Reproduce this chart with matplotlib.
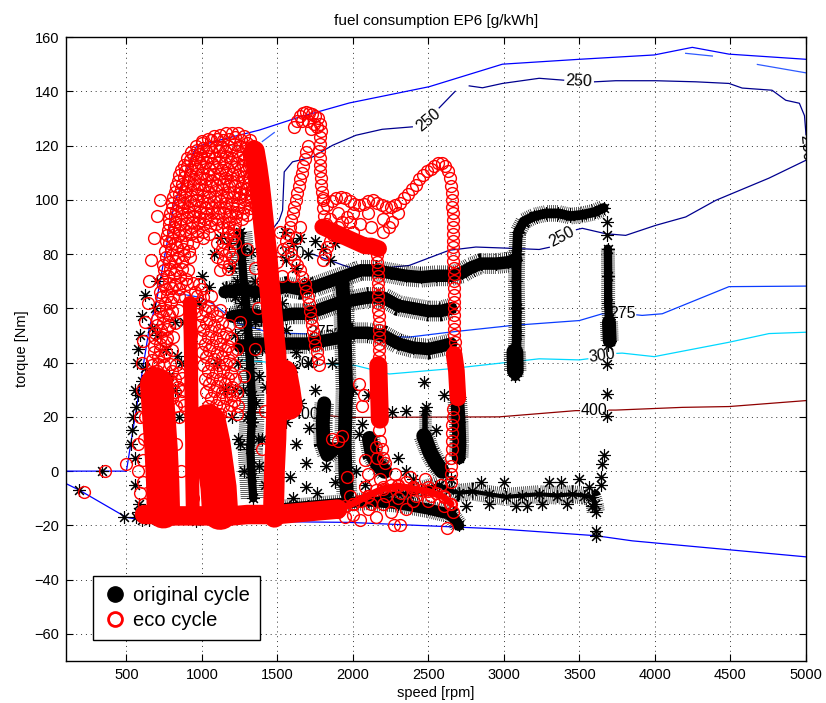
import matplotlib
matplotlib.use("Agg")
import matplotlib.pyplot as plt
from matplotlib.lines import Line2D

plt.rcParams['font.family'] = ['Liberation Sans', 'DejaVu Sans']

# ---------------------------------------------------------------- axes / ticks
x_ticks = [500, 1000, 1500, 2000, 2500, 3000, 3500, 4000, 4500, 5000]
y_ticks = [-60, -40, -20, 0, 20, 40, 60, 80, 100, 120, 140, 160]

# ---------------------------------------------------------------- engine map
full_load_rpm = [100, 500, 652, 696, 817, 961, 1115, 1380, 1645, 1976, 2505, 2990, 3499, 3995, 4247, 4490, 5000]
full_load_nm = [0, 0, 53, 61.7, 98.7, 119.5, 122, 125.7, 130.5, 135.7, 141.7, 150, 151.8, 153.4, 156.2, 153.7, 151.8]

motoring_rpm = [100, 188, 498, 586, 961, 1976, 2968, 3608, 3850, 5000]
motoring_nm = [-4.6, -7, -17, -17.9, -18.3, -18.9, -21.3, -23.8, -25.7, -31.6]

# bsfc iso-lines [g/kWh]
c245_a = [(1400, 121.5), (1479, 124.8)]
c245_b = [(4203, 154), (4380, 153)]
c245_c = [(4678, 149.9), (5000, 146.8)]

c250_inner = [(1495, 80.5), (1440, 81.5), (1425, 84), (1446, 87.5), (1512, 92.5), (1534, 96.1), (1545, 110.3),
              (1600, 114), (1733, 115.8), (1865, 120.1), (2020, 123.8), (2194, 126), (2393, 126.9)]
c250_inner_end = [(2571, 133.9), (2677, 140)]
c250_low_a = [(1690, 80), (1732, 80), (1930, 76), (2040, 74), (2372, 75.8), (2637, 81.4), (2814, 82.6),
              (3013, 82.2), (3233, 81.7), (3300, 82.5)]
c250_low_b = [(3480, 89), (3519, 89.5), (3674, 87.5), (3806, 86.9), (4005, 90.6), (4204, 93.7), (4402, 99.8),
              (4755, 108), (5000, 114.6)]
c250_top_a = [(5000, 124), (4990, 131), (4956, 135.6), (4866, 136.7), (4775, 140.4), (4577, 141.2), (4490, 142.9),
              (4270, 143.5), (4005, 143.9), (3740, 143.9), (3600, 143.5)]
c250_top_b = [(3395, 144.1), (3233, 144.8), (2990, 142.9), (2858, 141.3), (2770, 142)]

c275_a = [(850, 65.4), (983, 64.1), (1071, 61.7), (1247, 54.4), (1450, 51), (1690, 50.6)]
c275_b = [(1895, 50.5), (2050, 49.8), (2372, 49.4), (2637, 51.2), (3056, 53.7), (3499, 55.5), (3651, 58), (3690, 58)]
c275_c = [(3880, 57.6), (3915, 57.4), (4048, 58), (4490, 68), (5000, 68.2)]

c300_a = [(1280, 40.8), (1450, 40.1), (1585, 39.8)]
c300_b = [(1797, 39.6), (2020, 38.9), (2240, 35.8), (2637, 37.7), (3233, 41.4), (3499, 41), (3555, 41.4)]
c300_c = [(3748, 43.4), (3783, 43.5), (3995, 42.2), (4490, 47.5), (4755, 50.7), (5000, 51.2)]

c400_a = [(1292, 21.7), (1420, 21.6), (1585, 21.3)]
c400_b = [(1797, 20.6), (1976, 19.8), (2968, 20), (3476, 22.3), (3500, 22.3)]
c400_c = [(3695, 22.5), (3740, 22.5), (4181, 23.5), (4490, 23.8), (5000, 26)]

# contour labels
label_rpm = [2499, 1590, 3386, 3498, 1790, 3785, 1690, 3651, 1690, 3597]
label_nm = [129.3, 80.2, 86.3, 143.6, 51.2, 58, 39.7, 42.6, 21, 22.3]
label_txt = ['250', '250', '250', '250', '275', '275', '300', '300', '400', '400']
label_rot = [40, 0, 28, -3, 0, 0, 0, 8, 0, 0]

# ---------------------------------------------------------------- original cycle (rpm, Nm)
orig_band_upper = [(1150, 66), (1250, 67), (1350, 66), (1480, 67), (1560, 68), (1650, 67), (1750, 68), (1850, 70),
                   (1950, 72), (2050, 74), (2150, 74), (2250, 73), (2350, 72), (2450, 71.5), (2550, 72),
                   (2650, 72), (2720, 73), (2780, 75), (2850, 76.5), (2950, 76.5), (3030, 77), (3080, 78)]
orig_band_step = [(3075, 35), (3080, 42), (3085, 50), (3085, 60), (3083, 70), (3085, 80), (3092, 88), (3130, 92),
                  (3200, 94), (3280, 95), (3360, 95), (3440, 94), (3520, 94.5), (3600, 95.5), (3660, 97)]
orig_blob_step = [(3075, 37), (3072, 44)]
orig_band_mid = [(1200, 57), (1300, 58), (1400, 57), (1480, 57), (1600, 58), (1700, 58), (1800, 60), (1900, 62),
                 (2000, 63), (2100, 64), (2200, 64), (2300, 61), (2400, 60), (2500, 59), (2580, 59), (2650, 60)]
orig_band_low = [(1250, 46), (1350, 47), (1480, 47), (1600, 47), (1700, 47), (1800, 48), (1900, 49), (2000, 51),
                 (2100, 51), (2200, 50), (2300, 47), (2400, 45.5), (2500, 45), (2580, 46), (2650, 47)]
orig_band_3680 = [(3688, 82), (3690, 72), (3690, 62), (3695, 56)]
orig_blob_3680 = [(3695, 55), (3700, 48)]
orig_band_neg = [(2200, -9), (2300, -8), (2372, -8.5), (2450, -7), (2571, -5), (2637, -7), (2700, -8),
                 (2791, -7.5), (2900, -8.5), (3013, -9.5), (3120, -9), (3233, -8.5), (3350, -9), (3453, -8.5),
                 (3530, -9), (3585, -9.7), (3600, -12), (3608, -15)]
orig_col_2700 = [(2690, 27), (2700, 18), (2705, 10), (2700, 5)]
orig_blob_2500 = [(2470, 13), (2510, 7), (2550, 3), (2590, 0)]
orig_stem_2500 = [(2480, 22), (2480, 13)]
orig_u_left = [(1810, 25), (1800, 18), (1805, 10), (1830, 6), (1870, 8)]
orig_col_1950 = [(1930, 70), (1940, 60), (1945, 50), (1950, 40), (1955, 30), (1950, 20), (1945, 10), (1950, 0),
                 (1960, -8)]
orig_blob_2150 = [(2110, 12), (2130, 6), (2170, 2), (2210, 0)]
orig_col_1300 = [(1250, 88), (1265, 78), (1280, 68), (1300, 58), (1310, 48), (1320, 38), (1330, 28), (1330, 18),
                 (1320, 8), (1330, -2), (1340, -10)]
orig_band_bottom = [(1500, -14), (1700, -13), (1900, -12), (2100, -11), (2300, -12), (2500, -14), (2650, -16),
                    (2700, -20)]
orig_points = [(188, -6.8), (341, 0), (487, -17), (564, -17), (586, -12), (961, -18.5),
               (540, 15), (564, 23.5), (575, 28), (605, 33.4), (620, 38), (672, 52.6), (690, 60), (700, 70),
               (837, 42.6), (820, 30), (850, 20), (560, 5), (580, 45),
               (530, 10), (545, 20), (555, 30), (570, 40), (590, 50), (600, 57), (620, 65), (560, -5),
               (580, -15), (600, -18), (650, -18), (700, 50), (760, 45), (820, 55), (860, 40), (780, 35),
               (880, 55), (930, 48), (980, 62), (1000, 72), (1050, 68), (1080, 80), (1120, 86), (1160, 67.8),
               (1180, 58), (1200, 75), (1220, 50), (1248, 87.6), (1325, 80.8), (1380, 64.8), (1336, 43.3),
               (1424, 31), (1350, 55), (1400, 45), (1360, 25), (1400, 12), (1380, 2), (1420, -5), (1100, 40),
               (1150, 30), (1200, 20), (1250, 10), (1100, 5), (1040, -5), (1180, 84), (1220, 64), (1380, 35),
               (1230, 70), (1260, 62), (1290, 52), (1240, 40), (1270, 30), (1300, 20), (1240, 12), (1280, 0),
               (1350, 70), (1390, 58), (1220, 30), (1370, 12), (1270, 82), (1390, 76),
               (1550, 88), (1600, 84), (1650, 86), (1700, 80), (1750, 85), (1850, 78), (1700, 70), (1620, 75),
               (1560, 78), (1800, 82), (1880, 84), (1530, 62), (1560, 52), (1540, 40), (1620, 44), (1860, 40),
               (1711, 16), (1689, 3), (1821, 1.8), (1689, -6), (1620, 10), (1650, 25), (1750, 30), (1700, 40),
               (1600, 38), (1560, 30), (1580, -2), (1600, -10), (1650, -14), (1560, 18), (1760, -8), (1880, -4),
               (2472, 32.8), (2351, 22.3), (2260, 21.7), (2062, 17.5), (2483, 23.5), (2041, 13.8), (2000, 30),
               (2100, 28), (2020, 0), (2080, -5), (2300, 5), (2350, 0), (2400, -3), (2550, 15), (2600, 28),
               (3680, 92), (3680, 87), (3690, 46.5), (3680, 39.5), (3680, 28.5), (3680, 20.5), (3660, 6),
               (3650, 2.5), (3640, -2), (3640, -5), (3608, -22), (3608, -24),
               (2650, -3), (2750, -13), (2900, -12), (3000, -4), (3150, -13), (3300, -4), (3420, -12),
               (3500, -3), (3560, -6), (3580, -13), (2850, -4), (3080, -13), (3250, -12), (3380, -4)]

# ---------------------------------------------------------------- eco cycle (rpm, Nm)
eco_col_main = [(1347, 118), (1365, 112), (1380, 106), (1392, 100), (1405, 93), (1418, 86), (1430, 80),
                (1440, 73), (1450, 67), (1460, 61), (1470, 55), (1480, 49), (1490, 43), (1495, 37), (1495, 31),
                (1495, 25), (1493, 19), (1490, 12), (1485, 6), (1480, 0), (1478, -6), (1475, -12), (1480, -17)]
eco_blob_main = [(1540, 36), (1560, 30), (1575, 24)]
eco_col_left = [(700, 32), (715, 20), (730, 8), (740, -4), (745, -15)]
eco_edge_left = [(640, 28), (625, 20), (615, 12), (610, 4), (612, -4), (618, -12), (660, 34), (680, 36)]
eco_col_930 = [(920, 62), (925, 50), (928, 40), (930, 30), (932, 20), (935, 10), (935, 0), (938, -10), (940, -16)]
eco_col_1100 = [(1040, 18), (1070, 10), (1090, 2), (1110, -6), (1120, -15)]
eco_band_bottom = [(620, -16), (700, -16), (800, -16.5), (900, -16.5), (1000, -16.5), (1100, -16.5), (1200, -16.5),
                   (1300, -16), (1400, -16), (1500, -16), (1600, -15.5), (1700, -15), (1800, -14.5), (1900, -14)]
eco_band_h = [(1800, 90), (1840, 89), (1880, 88), (1920, 87), (1960, 86), (2000, 85), (2040, 84), (2080, 83),
              (2120, 83), (2170, 82)]
eco_band_br = [(1900, -14), (2000, -12), (2100, -9), (2200, -6.5), (2300, -5.5), (2400, -6.5), (2500, -7.5),
               (2600, -9.5), (2650, -12)]
eco_blob_2165 = [(2168, 39), (2172, 31), (2176, 24), (2178, 19)]
eco_blob_2680 = [(2670, 43), (2685, 37), (2690, 32), (2695, 27)]

# high-load cloud rows
eco_cloud_a = [(1000, 121.5), (1040, 122.5), (1080, 123.5), (1120, 124), (1160, 124.5), (1200, 124.8),
               (1240, 124.5), (1280, 123.5), (1320, 122)]
eco_cloud_ab = [(960, 120), (1000, 121), (1060, 122), (1100, 122.5), (1140, 122), (1180, 122.5), (1220, 123),
                (1260, 122), (1300, 121), (1340, 120)]
eco_cloud_b = [(930, 117.5), (970, 118.5), (1010, 119), (1050, 119.5), (1090, 120), (1130, 119.5), (1170, 120),
               (1210, 120.5), (1250, 120), (1290, 119), (1330, 118)]
eco_cloud_bc = [(900, 115.5), (940, 116.5), (990, 117), (1030, 118), (1070, 117.5), (1110, 118), (1150, 118),
                (1190, 118.5), (1230, 118), (1270, 117), (1310, 116), (1350, 115)]
eco_cloud_c = [(880, 113), (920, 114.5), (960, 115), (1000, 115.5), (1040, 116), (1080, 115.5), (1120, 116),
               (1160, 116), (1200, 115.5), (1240, 116), (1280, 115), (1320, 114), (1360, 113)]
eco_cloud_cd = [(860, 111), (900, 112.5), (950, 113), (990, 113.5), (1030, 114), (1070, 113.5), (1110, 114),
                (1150, 113.5), (1190, 114), (1230, 113.5), (1270, 113), (1310, 112), (1350, 111.5)]
eco_cloud_d = [(850, 109), (890, 110.5), (930, 111), (970, 111.5), (1010, 112), (1050, 111.5), (1090, 112),
               (1130, 111), (1170, 111.5), (1210, 112), (1250, 111), (1290, 110.5), (1330, 110), (1370, 109)]
eco_cloud_de = [(840, 107), (880, 108.5), (920, 109), (960, 109.5), (1000, 110), (1040, 109.5), (1080, 109.5),
                (1120, 109.5), (1160, 110), (1200, 109.5), (1240, 109), (1280, 108.5), (1320, 108), (1360, 107.5),
                (1395, 106)]
eco_cloud_e = [(830, 105), (870, 106), (910, 107), (950, 107.5), (990, 108), (1030, 107.5), (1070, 107),
               (1110, 107.5), (1150, 108), (1190, 107), (1230, 107), (1270, 106.5), (1310, 106), (1350, 105.5),
               (1390, 104)]
eco_cloud_ef = [(820, 103), (860, 104), (900, 105), (940, 105.5), (980, 106), (1020, 105.5), (1060, 105),
                (1100, 105.5), (1140, 106), (1180, 105), (1220, 105), (1260, 104.5), (1300, 104), (1340, 103.5),
                (1385, 102)]
eco_cloud_f = [(810, 101), (850, 102), (890, 103), (930, 103.5), (970, 104), (1010, 103.5), (1050, 103),
               (1090, 103.5), (1130, 104), (1170, 103), (1210, 103), (1250, 102.5), (1290, 102), (1330, 101.5),
               (1370, 100)]
eco_cloud_fg = [(805, 99), (845, 100), (885, 101), (925, 101.5), (965, 102), (1005, 101.5), (1045, 101),
                (1085, 101.5), (1125, 101.5), (1165, 101), (1205, 101), (1245, 100.5), (1285, 100), (1325, 99.5),
                (1360, 98)]
eco_cloud_g = [(800, 97), (840, 98), (880, 99), (920, 99.5), (960, 100), (1000, 99.5), (1040, 99), (1080, 99.5),
               (1120, 99.5), (1160, 99), (1200, 98.5), (1240, 98), (1280, 97.5), (1320, 97)]
eco_cloud_gh = [(790, 95), (830, 96), (870, 97), (910, 97.5), (950, 98), (990, 97.5), (1030, 97), (1070, 97.5),
                (1110, 97), (1150, 97), (1190, 96), (1230, 95.5), (1270, 95), (1300, 94.5)]
eco_cloud_h = [(785, 93), (825, 94), (865, 95), (905, 95.5), (945, 96), (985, 95.5), (1025, 95), (1065, 95.5),
               (1105, 95), (1145, 95), (1185, 94), (1225, 93.5), (1265, 93)]
eco_cloud_hi = [(780, 91), (820, 92), (860, 93), (900, 93.5), (940, 94), (980, 93.5), (1020, 93), (1060, 92.5),
                (1100, 93), (1140, 92), (1180, 91.5), (1220, 91)]
eco_cloud_i = [(775, 89), (815, 90), (855, 91), (895, 91.5), (935, 92), (975, 91.5), (1015, 91), (1055, 90.5),
               (1095, 91), (1135, 90), (1175, 89.5), (1215, 89)]
eco_cloud_ij = [(770, 87), (810, 88), (850, 89), (890, 89), (930, 89.5), (970, 88.5), (1010, 88), (1050, 87.5),
                (1170, 88), (1210, 87)]
eco_cloud_j = [(765, 85), (805, 86), (845, 87), (885, 87), (925, 87.5), (965, 86.5), (1005, 86)]

# lower cloud, looser rings
eco_cloud_loose = [(1160, 86), (1200, 85.5),
                   (755, 81), (795, 82), (835, 82.5), (875, 82), (915, 81), (1130, 82), (1180, 81),
                   (745, 76), (785, 77), (825, 77.5), (865, 77), (1140, 77), (1180, 76),
                   (735, 71), (775, 72), (815, 72.5), (855, 72), (895, 71),
                   (725, 66), (765, 67), (805, 67.5), (845, 67), (955, 66), (995, 67),
                   (715, 61), (755, 62), (795, 62.5), (990, 62), (1040, 61),
                   (705, 56), (745, 57), (785, 57.5), (1000, 57), (1050, 56), (1100, 57),
                   (690, 51), (730, 52), (770, 52.5), (1010, 52), (1060, 51.5), (1110, 52), (1160, 51),
                   (680, 46), (720, 47), (760, 47.5), (1020, 47), (1070, 46.5), (1120, 47), (1170, 46),
                   (670, 41), (710, 42), (750, 42.5), (1030, 42), (1080, 41.5), (1130, 42), (1180, 41),
                   (660, 36), (700, 37), (800, 37), (850, 36), (1040, 37), (1090, 36.5), (1140, 37), (1190, 36),
                   (650, 31), (800, 32), (840, 31), (1050, 32), (1100, 31.5), (1150, 32), (1200, 31),
                   (800, 27), (860, 26), (1060, 27), (1110, 26.5), (1160, 27), (1210, 26),
                   (1060, 22), (1120, 21), (1180, 22), (1230, 21), (850, 20), (830, 10), (860, 0)]
eco_cloud_low = [(780, 84), (820, 84), (860, 84.5), (900, 84), (940, 84), (1100, 84), (1140, 84.5), (1220, 84),
                 (760, 79), (800, 79.5), (840, 79), (880, 79.5), (920, 79), (1100, 79), (1150, 79.5), (1200, 79),
                 (750, 74), (790, 74.5), (830, 74), (870, 74.5), (910, 74), (1120, 74), (1170, 74.5),
                 (740, 69), (780, 69.5), (820, 69), (860, 69.5), (900, 69), (940, 69.5), (980, 69),
                 (730, 64), (770, 64.5), (810, 64), (850, 64.5), (890, 64), (970, 64.5), (1010, 64), (1060, 64.5),
                 (720, 59), (760, 59.5), (800, 59), (840, 59.5), (960, 59), (1020, 59.5), (1070, 59), (1120, 59.5),
                 (700, 54), (740, 54.5), (780, 54), (820, 54.5), (980, 54), (1030, 54.5), (1080, 54),
                 (1130, 54.5), (1180, 54),
                 (690, 49), (730, 49.5), (770, 49), (810, 49.5), (990, 49), (1040, 49.5), (1090, 49),
                 (1140, 49.5), (1190, 49),
                 (680, 44), (720, 44.5), (760, 44), (800, 44.5), (1000, 44), (1050, 44.5), (1100, 44),
                 (1150, 44.5), (1200, 44),
                 (670, 39), (710, 39.5), (750, 39), (790, 39.5), (830, 39), (1010, 39), (1060, 39.5), (1110, 39),
                 (1160, 39.5), (1210, 39),
                 (660, 34), (770, 34.5), (820, 34), (870, 34.5), (1020, 34), (1070, 34.5), (1120, 34),
                 (1170, 34.5), (1220, 34),
                 (820, 29), (870, 29.5), (1030, 29), (1080, 29.5), (1130, 29), (1180, 29.5), (1230, 29),
                 (830, 24), (880, 24.5), (1040, 24), (1090, 24.5), (1140, 24), (1190, 24.5), (1240, 24)]

eco_trail_peak = [(1610, 127), (1630, 129), (1650, 131), (1670, 132), (1690, 132.5), (1710, 132), (1730, 131.5),
                  (1750, 131), (1770, 130), (1785, 128), (1790, 125.5), (1785, 123), (1780, 120.5), (1778, 118),
                  (1780, 115.5), (1782, 113), (1785, 110.5), (1788, 108), (1790, 105.5), (1795, 103), (1800, 100.5),
                  (1660, 129), (1700, 129), (1740, 128), (1720, 126), (1760, 127)]
eco_trail_left = [(1700, 120), (1690, 117.5), (1680, 115), (1670, 112.5), (1660, 110), (1650, 107.5), (1640, 105),
                  (1630, 102.5), (1620, 100), (1610, 97.5), (1600, 95), (1590, 92.5), (1580, 90), (1570, 87.5),
                  (1560, 85), (1570, 82.5), (1590, 80), (1610, 78), (1630, 76), (1650, 74), (1665, 71.5),
                  (1680, 69), (1690, 66.5), (1700, 64), (1708, 61.5), (1715, 59), (1722, 56.5), (1730, 54),
                  (1737, 51.5), (1745, 49), (1752, 46.5), (1760, 44), (1768, 41.5), (1775, 39),
                  (1520, 88), (1540, 82), (1500, 77), (1600, 72), (1530, 72), (1620, 86), (1650, 90)]
eco_trail_h = [(1830, 98), (1860, 99.5), (1890, 100.5), (1920, 101), (1950, 100.5), (1980, 99.5), (2010, 98.5),
               (2040, 98), (2070, 98.5), (2100, 99.5), (2130, 100), (2160, 99), (2190, 98), (2220, 97.5),
               (2250, 97.5), (2280, 98), (2310, 99), (2340, 100.5), (2365, 102), (2390, 104), (2415, 105.5),
               (2440, 107.5), (2465, 109), (2490, 110.5), (2515, 111.5), (2540, 112.5), (2565, 113.5),
               (2590, 113.5), (2610, 112.5), (2630, 110.5), (2645, 108), (2652, 105), (2655, 102.5),
               (1800, 78), (1815, 80), (1830, 82.5), (1850, 85), (1870, 87), (1900, 90), (1930, 92), (1960, 93.5),
               (2000, 95), (1800, 100), (1805, 97), (1810, 94), (1820, 91), (1900, 95), (1980, 92), (2050, 91),
               (2120, 90), (2200, 88), (2240, 90), (2260, 92), (2300, 95), (2100, 95), (2000, 88), (2200, 93),
               (1850, 93)]
eco_col_2660 = [(2655, 100), (2658, 97.5), (2660, 95), (2660, 92.5), (2662, 90), (2662, 87.5), (2664, 85),
                (2664, 82.5), (2665, 80), (2665, 77.5), (2666, 75), (2666, 72.5), (2666, 70), (2667, 67.5),
                (2668, 65), (2668, 62.5), (2669, 60), (2670, 57.5), (2670, 55), (2671, 52.5), (2672, 50),
                (2673, 47.5), (2674, 45),
                (2662, 23), (2660, 20), (2658, 17), (2656, 14), (2655, 11), (2654, 8), (2652, 5), (2650, 2),
                (2650, -1), (2652, -4)]
eco_col_2165 = [(2158, 82), (2160, 79.5), (2162, 77), (2163, 74.5), (2165, 72), (2165, 69.5), (2166, 67),
                (2167, 64.5), (2168, 62), (2168, 59.5), (2170, 57), (2170, 54.5), (2171, 52), (2172, 49.5),
                (2173, 47), (2174, 44.5), (2175, 42),
                (2175, 15), (2180, 11), (2190, 8), (2200, 5), (2210, 3), (2160, 5), (2150, 9)]
eco_bottom_right = [(1900, -15), (1950, -13), (2000, -12), (2050, -11), (2100, -9), (2150, -7), (2200, -6),
                    (2250, -5), (2300, -5), (2350, -4), (2400, -6), (2450, -7), (2500, -6), (2550, -8),
                    (2600, -9), (2640, -12), (2660, -15), (2000, -16), (2100, -14), (2200, -12), (2300, -10),
                    (2400, -11), (2500, -11), (2150, -17), (2250, -15), (2350, -14), (2270, -20), (2310, -20),
                    (2620, -21), (1950, -17), (2050, -18), (1980, -9), (2080, -6), (2180, -3), (2280, -1),
                    (2380, -2), (2480, -3), (2580, -5), (2120, -12), (2220, -9), (2320, -8), (2420, -9),
                    (2520, -9), (2600, -13)]
eco_points = [(222, -7.8), (356, 0), (500, 2.6), (1860, 12), (1900, 11), (1930, 13), (2040, 32), (2070, 28),
              (2060, 24), (2080, 4), (2100, -1), (1960, -2),
              (600, 40), (610, 48), (620, 55), (640, 62), (650, 70), (600, 30), (660, 78), (680, 86), (700, 94),
              (720, 100), (590, 20), (580, 10), (575, 0), (590, -8),
              (1250, 55), (1230, 45), (1280, 35), (1200, 28), (1350, 45), (1370, 60), (1400, 70), (1350, 75),
              (1300, 82), (1420, 22), (1400, 8)]

# ---------------------------------------------------------------- figure
fig = plt.figure(figsize=(8.26, 7.03), dpi=100)
ax = fig.add_axes([0.0799, 0.0597, 0.8959, 0.8876])


def xy(pts):
    return [p[0] for p in pts], [p[1] for p in pts]


# iso-lines
ax.plot(full_load_rpm, full_load_nm, color='#0000ff', lw=0.9, zorder=2)
ax.plot(motoring_rpm, motoring_nm, color='#0000ff', lw=0.9, zorder=2)
for seg in (c245_a, c245_b, c245_c):
    ax.plot(*xy(seg), color='#2f5bff', lw=0.9, zorder=2)
for seg in (c250_inner, c250_inner_end, c250_low_a, c250_low_b, c250_top_a, c250_top_b):
    ax.plot(*xy(seg), color='#00008f', lw=0.9, zorder=2)
for seg in (c275_a, c275_b, c275_c):
    ax.plot(*xy(seg), color='#0a3cff', lw=0.9, zorder=2)
for seg in (c300_a, c300_b, c300_c):
    ax.plot(*xy(seg), color='#00d8ff', lw=0.9, zorder=2)
for seg in (c400_a, c400_b, c400_c):
    ax.plot(*xy(seg), color='#8f0000', lw=0.9, zorder=2)

for r, n, t, a in zip(label_rpm, label_nm, label_txt, label_rot):
    ax.text(r, n, t, rotation=a, ha='center', va='center', fontsize=11.5, zorder=3, rotation_mode='anchor')
ax.text(5000, 119, '250', rotation=-85, ha='center', va='center', fontsize=11.5, zorder=3, clip_on=True)

# original cycle: dense runs drawn as a solid core with fuzzy asterisk edges
star = (8, 2, 0)
star_style = dict(ls='none', marker=star, ms=9, mec='k', mew=0.8, zorder=4)


def black_run(pts, core, hair):
    x, y = xy(pts)
    ax.plot(x, y, color='k', lw=core, solid_capstyle='round', solid_joinstyle='round', zorder=4)
    ax.plot(x, y, color='k', lw=hair, dashes=(0.45 / hair, 1.0 / hair), dash_capstyle='butt', zorder=4)
    ax.plot(x, y, **star_style)


black_run(orig_band_upper, 9, 15)
black_run(orig_band_step, 7, 12)
black_run(orig_blob_step, 12, 16)
black_run(orig_band_mid, 9, 15)
black_run(orig_band_low, 9, 15)
black_run(orig_band_3680, 6, 10)
black_run(orig_blob_3680, 10, 13)
black_run(orig_band_neg, 3, 13)
black_run(orig_col_2700, 10, 14)
black_run(orig_blob_2500, 11, 15)
black_run(orig_stem_2500, 4, 9)
black_run(orig_u_left, 10, 14)
black_run(orig_col_1950, 10, 15)
black_run(orig_blob_2150, 11, 15)
black_run(orig_col_1300, 6, 18)
black_run(orig_band_bottom, 8, 13)
ax.plot(*xy(orig_points), **star_style)

# eco cycle: open red rings, with solid strokes where they pile up
ring_style = dict(ls='none', marker='o', ms=8.5, mfc='none', mec='#ff0000', mew=1.0, zorder=5)


def red_run(pts, core):
    x, y = xy(pts)
    if core:
        ax.plot(x, y, color='#ff0000', lw=core, solid_capstyle='round', solid_joinstyle='round', zorder=5)
    ax.plot(x, y, **ring_style)


red_run(eco_col_main, 15)
red_run(eco_blob_main, 20)
red_run(eco_col_left, 24)
red_run(eco_edge_left, 0)
red_run(eco_col_930, 10)
red_run(eco_col_1100, 26)
red_run(eco_band_bottom, 14)
red_run(eco_band_h, 12)
red_run(eco_band_br, 5)
red_run(eco_blob_2165, 13)
red_run(eco_blob_2680, 12)
for row in (eco_cloud_a, eco_cloud_ab, eco_cloud_b, eco_cloud_bc, eco_cloud_c, eco_cloud_cd, eco_cloud_d,
            eco_cloud_de, eco_cloud_e, eco_cloud_ef, eco_cloud_f, eco_cloud_fg, eco_cloud_g, eco_cloud_gh,
            eco_cloud_h, eco_cloud_hi, eco_cloud_i, eco_cloud_ij, eco_cloud_j):
    red_run(row, 0)
for pts in (eco_cloud_loose, eco_cloud_low, eco_trail_peak, eco_trail_left, eco_trail_h, eco_col_2660,
            eco_col_2165, eco_bottom_right, eco_points):
    red_run(pts, 0)

# axes cosmetics
ax.set_xlim(100, 5000)
ax.set_ylim(-70, 160)
ax.set_xticks(x_ticks)
ax.set_yticks(y_ticks)
ax.tick_params(direction='in', top=True, right=True, length=5, width=0.8, labelsize=10.5, pad=5)
ax.grid(True, linestyle=(0, (1, 4)), color='#333333', lw=0.7)
ax.set_axisbelow(True)
for s in ax.spines.values():
    s.set_linewidth(1.0)
ax.set_title('fuel consumption EP6 [g/kWh]', fontsize=11, pad=9)
ax.set_xlabel('speed [rpm]', fontsize=10.5, labelpad=3)
ax.set_ylabel('torque [Nm]', fontsize=10.5, labelpad=4)

handles = [Line2D([], [], ls='none', marker='o', ms=11, mfc='k', mec='k'),
           Line2D([], [], ls='none', marker='o', ms=10, mfc='none', mec='#ff0000', mew=2)]
leg = ax.legend(handles, ['original cycle', 'eco cycle'], loc='lower left', bbox_to_anchor=(0.0365, 0.0337),
                borderaxespad=0, fontsize=14.5, frameon=True, fancybox=False, framealpha=1,
                handletextpad=0.3, handlelength=1.2, borderpad=0.5, labelspacing=0.3)
leg.get_frame().set_edgecolor('k')
leg.get_frame().set_linewidth(1.0)
leg.set_zorder(10)

fig.savefig('out.png', dpi=100)
